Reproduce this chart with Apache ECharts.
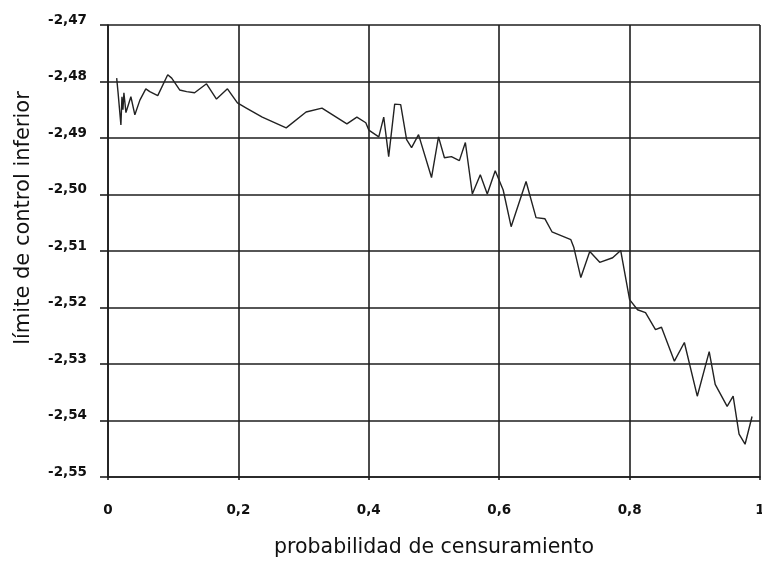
<!DOCTYPE html>
<html>
<head>
<meta charset="utf-8">
<script src="https://cdn.jsdelivr.net/npm/echarts@6/dist/echarts.min.js"></script>
<style>html,body{margin:0;padding:0;background:#fff}#c{width:762px;height:562px}</style>
</head>
<body>
<div id="c"></div>
<script>
var xValues = [0.0133,0.0153,0.0198,0.0214,0.0229,0.0244,0.0275,0.0351,0.0412,0.0489,0.0580,0.0641,0.0763,0.0916,0.0977,0.1099,0.1206,0.1328,0.1511,0.1664,0.1832,0.1985,0.2122,0.2366,0.2733,0.3038,0.3282,0.3664,0.3817,0.3954,0.4000,0.4153,0.4229,0.4305,0.4397,0.4489,0.4580,0.4656,0.4763,0.4962,0.5069,0.5160,0.5267,0.5389,0.5481,0.5588,0.5710,0.5817,0.5939,0.6061,0.6183,0.6412,0.6565,0.6702,0.6809,0.7099,0.7145,0.7252,0.7389,0.7542,0.7740,0.7863,0.8000,0.8122,0.8244,0.8397,0.8489,0.8687,0.8840,0.9038,0.9221,0.9313,0.9496,0.9588,0.9679,0.9771,0.9878];
var yValues = [-2.4794,-2.4818,-2.4877,-2.4827,-2.4850,-2.4820,-2.4855,-2.4827,-2.4859,-2.4833,-2.4813,-2.4818,-2.4825,-2.4788,-2.4794,-2.4815,-2.4818,-2.4820,-2.4804,-2.4831,-2.4813,-2.4838,-2.4847,-2.4863,-2.4882,-2.4854,-2.4847,-2.4875,-2.4863,-2.4873,-2.4886,-2.4898,-2.4863,-2.4933,-2.4840,-2.4841,-2.4903,-2.4917,-2.4894,-2.4970,-2.4898,-2.4935,-2.4933,-2.4940,-2.4908,-2.4999,-2.4965,-2.4999,-2.4958,-2.4992,-2.5057,-2.4977,-2.5041,-2.5043,-2.5066,-2.5080,-2.5094,-2.5147,-2.5101,-2.5120,-2.5112,-2.5099,-2.5186,-2.5204,-2.5209,-2.5239,-2.5235,-2.5295,-2.5262,-2.5357,-2.5278,-2.5336,-2.5375,-2.5357,-2.5424,-2.5442,-2.5393];
var xTitle = 'probabilidad de censuramiento';
var yTitle = 'límite de control inferior';

var data = xValues.map(function (x, i) { return [x, yValues[i]]; });
var chart = echarts.init(document.getElementById('c'), null, {renderer: 'canvas'});
var lineCol = '#1e1e1e';
chart.setOption({
  animation: false,
  grid: {left: 108, right: 2, top: 25, bottom: 85, containLabel: false, outerBoundsMode: 'none'},
  xAxis: {
    type: 'value', min: 0, max: 1, interval: 0.2,
    name: xTitle, nameLocation: 'middle', nameGap: 60,
    nameTextStyle: {fontFamily: 'DejaVu Sans', fontSize: 20.5, color: '#111'},
    axisLine: {show: true, lineStyle: {color: lineCol, width: 1.6}},
    axisTick: {show: true, inside: false, length: 3, lineStyle: {color: lineCol, width: 1.6}},
    splitLine: {show: true, lineStyle: {color: lineCol, width: 1.6}},
    axisLabel: {
      margin: 26, fontFamily: 'DejaVu Sans', fontWeight: 'bold', fontSize: 13.5, color: '#111',
      formatter: function (v) { return v === 0 ? '0' : (Math.abs(v - 1) < 1e-9 ? '1' : v.toFixed(1).replace('.', ',')); }
    }
  },
  yAxis: {
    type: 'value', min: -2.55, max: -2.47, interval: 0.01,
    axisLine: {show: true, lineStyle: {color: lineCol, width: 1.6}},
    axisTick: {show: true, inside: false, length: 8, lineStyle: {color: lineCol, width: 1.6}},
    splitLine: {show: true, lineStyle: {color: lineCol, width: 1.6}},
    axisLabel: {
      margin: 21, fontFamily: 'DejaVu Sans', fontWeight: 'bold', fontSize: 13.5, color: '#111',
      verticalAlign: 'bottom', lineHeight: 10,
      formatter: function (v) { return v.toFixed(2).replace('.', ','); }
    }
  },
  graphic: [{
    type: 'text', x: 24, y: 218, rotation: Math.PI / 2,
    style: {text: yTitle, fontFamily: 'DejaVu Sans', fontSize: 21, fill: '#111', textAlign: 'center', textVerticalAlign: 'middle'}
  }],
  series: [{
    type: 'line', data: data, symbol: 'none', showSymbol: false,
    lineStyle: {color: '#222', width: 1.4}
  }]
});
</script>
</body>
</html>
